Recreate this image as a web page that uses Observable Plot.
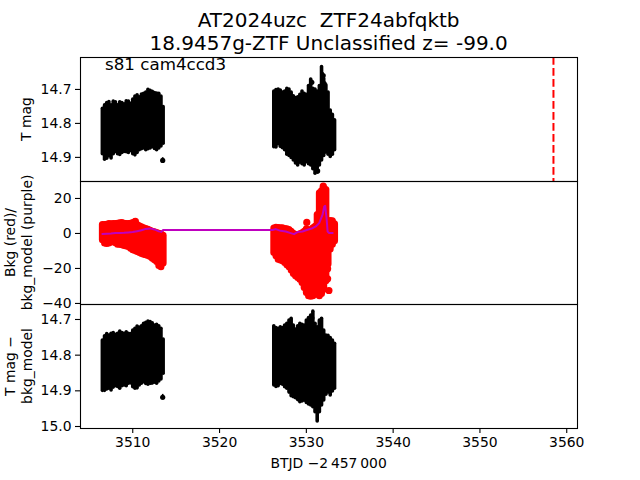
<!DOCTYPE html>
<html><head><meta charset="utf-8">
<script src="https://cdn.jsdelivr.net/npm/d3@7"></script>
<script src="https://cdn.jsdelivr.net/npm/@observablehq/plot@0.6"></script>
<style>
body{margin:0;background:#fff;}
#fig{position:relative;width:640px;height:480px;overflow:hidden;background:#fff}
#fig svg{position:absolute;left:0}
</style></head><body><div id="fig"></div>
<script>
// ---------- text ----------
const titleLine1 = "AT2024uzc  ZTF24abfqktb";
const titleLine2 = "18.9457g-ZTF Unclassified z= -99.0";
const sectorLabel = "s81 cam4ccd3";
const xLabel = "BTJD \u22122\u2009457\u2009000";
const yLabel1 = ["T mag"];
const yLabel2 = ["Bkg (red)/", "bkg_model (purple)"];
const yLabel3 = ["T mag \u2212", "bkg_model"];

// ---------- ticks ----------
const xTicks = [3510, 3520, 3530, 3540, 3550, 3560];
const p1Ticks = [14.7, 14.8, 14.9];
const p2Ticks = [20, 0, -20, -40];
const p3Ticks = [14.7, 14.8, 14.9, 15.0];

// ---------- time grids of the two observing blocks ----------
const c1Time = [3506.5,3506.75,3507,3507.25,3507.5,3507.75,3508,3508.25,3508.5,3508.75,3509,3509.25,3509.5,3509.75,3510,3510.25,3510.5,3510.75,3511,3511.25,3511.5,3511.75,3512,3512.25,3512.5,3512.75,3513,3513.25,3513.5];
const c2Time = [3526.25,3526.5,3526.75,3527,3527.25,3527.5,3527.75,3528,3528.25,3528.5,3528.75,3529,3529.25,3529.5,3529.75,3530,3530.25,3530.5,3530.75,3531,3531.25,3531.5,3531.75,3532,3532.25,3532.5,3532.75,3533,3533.25];

// ---------- panel 1: T mag envelope (bright edge / faint edge) ----------
const p1c1Hi = [14.757,14.747,14.740,14.737,14.747,14.736,14.738,14.747,14.738,14.740,14.744,14.735,14.736,14.742,14.730,14.721,14.717,14.723,14.715,14.713,14.709,14.701,14.704,14.707,14.711,14.712,14.713,14.721,14.752];
const p1c1Lo = [14.891,14.907,14.904,14.897,14.903,14.891,14.884,14.891,14.893,14.887,14.884,14.885,14.887,14.881,14.891,14.894,14.887,14.879,14.876,14.874,14.879,14.876,14.874,14.870,14.875,14.879,14.874,14.868,14.860];
const p1c2Hi = [14.706,14.702,14.700,14.703,14.709,14.706,14.698,14.700,14.709,14.720,14.725,14.723,14.716,14.706,14.713,14.716,14.690,14.671,14.698,14.700,14.706,14.690,14.634,14.669,14.688,14.709,14.762,14.775,14.791];
const p1c2Lo = [14.870,14.871,14.861,14.869,14.873,14.879,14.892,14.896,14.902,14.909,14.918,14.924,14.916,14.920,14.924,14.914,14.920,14.924,14.935,14.948,14.933,14.924,14.909,14.896,14.886,14.892,14.899,14.892,14.879];
const p1OutTime = [3513.45, 3530.63, 3531.94, 3532.05, 3531.3];
const p1OutMag  = [14.909, 14.679, 14.659, 14.683, 14.940];
const p1OutErr  = [0.008, 0.006, 0.008, 0.006, 0.010];
const vlineTime = [3558.47];

// ---------- panel 2: background (red) and model (purple) ----------
const p2c1Hi = [4.86,4.9,5.05,5.43,5.2,5.4,5.4,5.6,5.8,6.0,5.6,5.4,5.4,5.6,6.0,6.4,4.9,4.1,3.5,2.95,2.57,2.19,1.62,1.05,0.67,0.29,-0.1,-0.48,-1.24];
const p2c1Lo = [-3.9,-5.8,-6.0,-5.8,-5.2,-4.5,-5.6,-6.4,-6.4,-6.8,-7.1,-7.5,-7.7,-8.7,-9.6,-10.0,-10.6,-11.1,-11.7,-12.1,-12.5,-12.9,-13.4,-14.4,-15.3,-16.3,-18.6,-19.3,-17.2];
const p2c2Hi = [2.8,3.3,3.1,3.0,3.0,2.6,2.4,2.0,1.0,-0.1,-0.9,-0.9,-0.5,0.1,1.0,2.4,1.0,2.0,3.0,3.9,10.6,23.0,24.3,25.8,24.9,6.8,7.1,7.0,5.2];
const p2c2Lo = [-11.1,-13.0,-15.0,-15.5,-15.9,-16.9,-18.2,-19.3,-21.2,-23.1,-24.5,-25.4,-26.4,-28.3,-31.1,-34.0,-35.9,-36.1,-35.9,-34.6,-35.0,-35.9,-34.6,-32.1,-27.3,-17.8,-9.2,-6.4,-4.5];
const bkgOutTime = [3510.3, 3530.05, 3532.45, 3532.45, 3532.6, 3531.95];
const bkgOutVal  = [6.9, 6.3, -20.2, -25.9, -32.6, 27.0];
const modelTime = [3506.5,3507,3507.5,3508,3508.5,3509,3509.5,3510,3510.5,3511,3511.5,3512,3512.5,3513,3513.3,3513.5,3526.1,3526.46,3527.04,3527.62,3528.2,3528.58,3528.97,3529.55,3530.13,3530.71,3531.09,3531.48,3531.87,3532.06,3532.17,3532.33,3532.45,3532.63,3533.03];
const modelBkg  = [-0.3,-0.1,0.0,0.2,0.3,0.4,0.6,0.8,1.3,1.8,2.6,2.9,2.3,1.2,0.9,2.0,2.0,2.5,1.5,1.1,0.2,-0.4,0.8,1.1,2.1,3.0,4.0,5.9,10.7,15.4,15.8,8.8,1.1,0.2,0.2];

// ---------- panel 3: T mag - bkg_model ----------
const p3c1Hi = [14.759,14.747,14.741,14.745,14.740,14.738,14.743,14.740,14.734,14.738,14.740,14.736,14.740,14.741,14.731,14.726,14.720,14.726,14.719,14.712,14.709,14.706,14.707,14.711,14.717,14.715,14.719,14.726,14.756];
const p3c1Lo = [14.900,14.900,14.896,14.894,14.899,14.891,14.887,14.889,14.894,14.887,14.885,14.887,14.880,14.879,14.890,14.894,14.893,14.885,14.880,14.876,14.881,14.883,14.880,14.876,14.877,14.880,14.874,14.868,14.852];
const p3c2Hi = [14.719,14.724,14.726,14.722,14.724,14.717,14.712,14.703,14.698,14.717,14.728,14.719,14.712,14.715,14.717,14.703,14.696,14.689,14.678,14.712,14.722,14.703,14.698,14.731,14.745,14.746,14.752,14.759,14.768];
const p3c2Lo = [14.885,14.889,14.887,14.881,14.883,14.890,14.894,14.905,14.915,14.918,14.921,14.926,14.932,14.930,14.928,14.934,14.938,14.941,14.946,14.960,14.986,14.960,14.941,14.927,14.911,14.905,14.913,14.902,14.894];
const p3OutTime = [3513.45, 3530.63, 3510.73, 3512.17];
const p3OutMag  = [14.918, 14.696, 14.724, 14.876];
const p3OutErr  = [0.008, 0.007, 0.005, 0.005];

// ---------- build tables ----------
const env = (times, hi, lo) => times.map((t, i) => ({t, hi: hi[i], lo: lo[i]}));
const pts = (times, m, e) => times.map((t, i) => ({t, m: m[i], e: e ? e[i] : 0}));
const xDomain = [3503.98, 3561.24];
const base = {
  width: 640, marginLeft: 80, marginRight: 63,
  style: {fontFamily: "'DejaVu Sans', sans-serif", fontSize: "13.9px", background: "transparent", color: "black", overflow: "visible"}
};
const yAxis = (ticks, fmt) => Plot.axisY({ticks, tickSize: 5, tickPadding: 4, tickFormat: fmt, label: null, stroke: "black", strokeWidth: 1.1});

const magMarks = (c1, c2, out) => [
  Plot.ruleX(c1, {x: "t", y1: "hi", y2: "lo", stroke: "black", strokeWidth: 3.6, strokeLinecap: "round"}),
  Plot.ruleX(c2, {x: "t", y1: "hi", y2: "lo", stroke: "black", strokeWidth: 3.6, strokeLinecap: "round"}),
  Plot.ruleX(out, {x: "t", y1: d => d.m - d.e, y2: d => d.m + d.e, stroke: "black", strokeWidth: 1.6}),
  Plot.dot(out, {x: "t", y: "m", r: 2.6, fill: "black", stroke: "none"})
];

const p1 = Plot.plot({
  ...base, height: 128, marginTop: 2, marginBottom: 2,
  x: {domain: xDomain, axis: null},
  y: {domain: [14.606, 14.971], reverse: true},
  marks: [
    ...magMarks(env(c1Time, p1c1Hi, p1c1Lo), env(c2Time, p1c2Hi, p1c2Lo), pts(p1OutTime, p1OutMag, p1OutErr)),
    Plot.ruleX(vlineTime, {stroke: "red", strokeWidth: 2, strokeDasharray: "7.7,3.3"}),
    yAxis(p1Ticks, d3.format(".1f")),
    Plot.frame({stroke: "black", strokeWidth: 1.1})
  ]
});

const p2 = Plot.plot({
  ...base, height: 127, marginTop: 2, marginBottom: 2,
  x: {domain: xDomain, axis: null},
  y: {domain: [-40.6, 29.7]},
  marks: [
    Plot.ruleX(env(c1Time, p2c1Hi, p2c1Lo), {x: "t", y1: "hi", y2: "lo", stroke: "red", strokeWidth: 7, strokeLinecap: "round"}),
    Plot.ruleX(env(c2Time, p2c2Hi, p2c2Lo), {x: "t", y1: "hi", y2: "lo", stroke: "red", strokeWidth: 7, strokeLinecap: "round"}),
    Plot.dot(pts(bkgOutTime, bkgOutVal), {x: "t", y: "m", r: 3.6, fill: "red", stroke: "none"}),
    Plot.line(pts(modelTime, modelBkg), {x: "t", y: "m", stroke: "#bf00bf", strokeWidth: 2}),
    yAxis(p2Ticks, d3.format("d")),
    Plot.frame({stroke: "black", strokeWidth: 1.1})
  ]
});

const p3 = Plot.plot({
  ...base, height: 178, marginTop: 2, marginBottom: 52,
  x: {domain: xDomain},
  y: {domain: [14.658, 15.0056], reverse: true},
  marks: [
    ...magMarks(env(c1Time, p3c1Hi, p3c1Lo), env(c2Time, p3c2Hi, p3c2Lo), pts(p3OutTime, p3OutMag, p3OutErr)),
    yAxis(p3Ticks, d3.format(".1f")),
    Plot.axisX({ticks: xTicks, tickSize: 5, tickPadding: 4, tickFormat: d => String(d), label: null, stroke: "black", strokeWidth: 1.1}),
    Plot.frame({stroke: "black", strokeWidth: 1.1})
  ]
});

const fig = document.getElementById("fig");
p1.style.top = "55px"; p2.style.top = "179px"; p3.style.top = "302px";
fig.append(p1, p2, p3);

// ---------- text overlay ----------
const ov = d3.select(fig).append("svg").attr("width", 640).attr("height", 480)
  .style("top", "0px").style("font-family", "'DejaVu Sans', sans-serif").style("pointer-events", "none");
ov.append("text").attr("x", 328.6).attr("y", 27).attr("text-anchor", "middle").attr("font-size", 20)
  .style("white-space", "pre").attr("xml:space", "preserve").text(titleLine1);
ov.append("text").attr("x", 328.6).attr("y", 50).attr("text-anchor", "middle").attr("font-size", 20).text(titleLine2);
ov.append("text").attr("x", 105).attr("y", 70).attr("font-size", 16.7).text(sectorLabel);
ov.append("text").attr("x", 328.6).attr("y", 468).attr("text-anchor", "middle").attr("font-size", 13.9).text(xLabel);
function yLab(lines, cy, lastX) {
  const n = lines.length;
  lines.forEach((s, i) => {
    const x = lastX - (n - 1 - i) * 16.7;
    ov.append("text").attr("transform", `translate(${x},${cy}) rotate(-90)`)
      .attr("text-anchor", "middle").attr("font-size", 13.9).text(s);
  });
}
yLab(yLabel1, 119, 31);
yLab(yLabel2, 242.5, 32);
yLab(yLabel3, 366, 32);
</script></body></html>
